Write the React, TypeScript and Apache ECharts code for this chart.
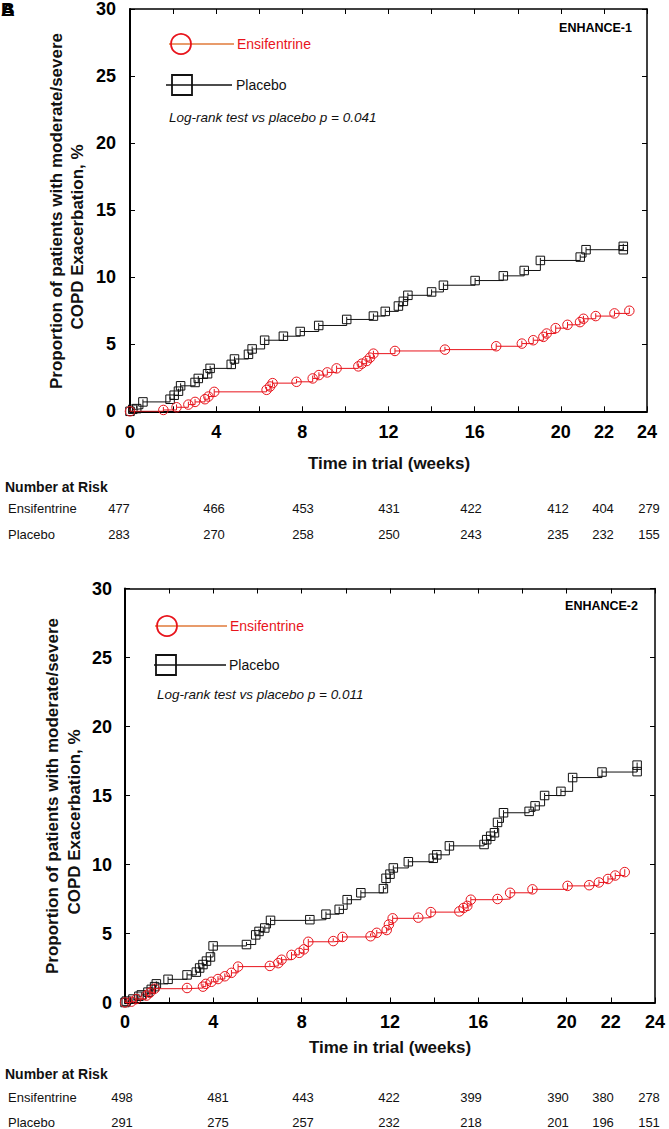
import React, { useEffect, useRef } from "react";
import * as echarts from "echarts";

type Pt = [number, number];

// ---------- DATA ----------
const xTickLabels = [0, 4, 8, 12, 16, 20, 22, 24];
const seriesNames = ["Ensifentrine", "Placebo"];
const trialNames = ["ENHANCE-1", "ENHANCE-2"];
const pValues = ["0.041", "0.011"];

const trial1Ensifentrine: Pt[] = [
  [0, 0], [1.55, 0.1], [2.16, 0.3], [2.71, 0.5], [3.02, 0.7], [3.48, 0.9], [3.64, 1.1], [3.91, 1.45],
  [6.34, 1.6], [6.5, 1.85], [6.62, 2.1], [7.73, 2.2], [8.48, 2.45], [8.77, 2.7], [9.16, 2.9], [9.59, 3.2],
  [10.6, 3.35], [10.76, 3.55], [10.99, 3.75], [11.14, 4.0], [11.3, 4.3], [12.3, 4.5], [14.62, 4.6],
  [17.0, 4.85], [18.19, 5.05], [18.72, 5.3], [19.19, 5.55], [19.34, 5.8], [19.76, 6.2], [20.31, 6.45],
  [20.89, 6.65], [21.05, 6.9], [21.62, 7.1], [22.49, 7.3], [23.18, 7.5],
];
const trial1Placebo: Pt[] = [
  [0, 0], [0.13, 0.15], [0.31, 0.2], [0.6, 0.7], [1.86, 0.9], [2.05, 1.2], [2.25, 1.5], [2.35, 1.9],
  [3.02, 2.15], [3.17, 2.45], [3.6, 2.8], [3.72, 3.2], [4.7, 3.5], [4.85, 3.9], [5.5, 4.25], [5.67, 4.65],
  [6.25, 5.3], [7.12, 5.6], [7.9, 5.95], [8.76, 6.4], [10.06, 6.85], [11.3, 7.1], [11.85, 7.45],
  [12.46, 7.85], [12.69, 8.2], [12.9, 8.65], [14.0, 8.9], [14.55, 9.4], [16.02, 9.75], [17.33, 10.1],
  [18.3, 10.5], [19.05, 11.25], [20.9, 11.5], [21.17, 12.05], [22.9, 12.05], [22.9, 12.3],
];
const trial2Ensifentrine: Pt[] = [
  [0, 0], [0.29, 0.06], [0.51, 0.25], [0.97, 0.5], [1.12, 0.7], [1.34, 1.0], [2.81, 1.05], [3.53, 1.15],
  [3.66, 1.35], [3.91, 1.5], [4.21, 1.7], [4.52, 1.9], [4.82, 2.15], [5.12, 2.6], [6.56, 2.65], [6.94, 2.85],
  [7.09, 3.1], [7.54, 3.45], [7.89, 3.6], [8.1, 3.85], [8.3, 4.4], [9.43, 4.45], [9.85, 4.75], [11.12, 4.8],
  [11.4, 5.05], [11.85, 5.25], [11.95, 5.65], [12.12, 6.1], [13.28, 6.15], [13.85, 6.55], [15.14, 6.6],
  [15.33, 6.85], [15.5, 7.0], [15.66, 7.45], [16.87, 7.5], [17.44, 7.95], [18.45, 8.2], [20.04, 8.45],
  [21.02, 8.5], [21.46, 8.7], [21.87, 8.95], [22.2, 9.2], [22.63, 9.45],
];
const trial2Placebo: Pt[] = [
  [0, 0], [0.06, 0.1], [0.36, 0.25], [0.63, 0.45], [0.74, 0.55], [1.04, 0.75], [1.19, 0.95], [1.34, 1.15],
  [1.42, 1.35], [1.95, 1.68], [2.81, 2.0], [3.23, 2.2], [3.38, 2.5], [3.53, 2.75], [3.69, 3.0], [3.87, 3.3],
  [3.99, 4.1], [5.5, 4.2], [5.92, 4.9], [6.07, 5.15], [6.33, 5.4], [6.59, 5.95], [8.37, 6.0], [9.1, 6.4],
  [9.7, 6.75], [10.06, 7.45], [10.68, 7.95], [11.7, 8.25], [11.82, 9.0], [12.0, 9.3], [12.15, 9.75],
  [12.83, 10.2], [13.96, 10.45], [14.12, 10.7], [14.69, 11.35], [16.26, 11.45], [16.38, 11.8],
  [16.56, 12.05], [16.73, 12.3], [16.87, 13.05], [17.14, 13.75], [18.3, 13.85], [18.57, 14.25],
  [19.0, 15.0], [19.74, 15.3], [20.27, 16.3], [21.6, 16.7], [23.19, 16.73], [23.19, 17.2],
];

const risk1Ensifentrine = [477, 466, 453, 431, 422, 412, 404, 279];
const risk1Placebo = [283, 270, 258, 250, 243, 235, 232, 155];
const risk2Ensifentrine = [498, 481, 443, 422, 399, 390, 380, 278];
const risk2Placebo = [291, 275, 257, 232, 218, 201, 196, 151];

// ---------- STYLE / LAYOUT ----------
const FONT = "'Liberation Sans', Arial, Helvetica, sans-serif";
const RED = "#e8141c";
const ORANGE = "#e07a3a";
const CIRCLE_SYM = "path://M0,10A10,10,0,1,1,20,10A10,10,0,1,1,0,10Z M10,10L10,4";
const SQUARE_SYM = "path://M0,0L20,0L20,20L0,20Z M10,10L10,4";

const panels = [
  {
    grid: { left: 130, top: 9, width: 517, height: 402.3 },
    ens: trial1Ensifentrine, pla: trial1Placebo,
    riskEns: risk1Ensifentrine, riskPla: risk1Placebo,
    riskX: [119, 214, 303, 389, 471, 558, 603, 649],
    yLabelMargin: 14, xLabelMargin: 12,
    titleX: 632, titleY: 28,
    legCircle: [181, 44], legLine1: [169, 234], legText1: 237,
    legSquare: [182, 85], legLine2: [166, 232], legText2: 236,
    pX: 169, pY: 117,
    yTitle1: [56, 211], yTitle2: [77, 237],
    xTitle: [389, 463],
    nrY: 487, rowY: [508, 534],
  },
  {
    grid: { left: 125, top: 588.5, width: 530, height: 414 },
    ens: trial2Ensifentrine, pla: trial2Placebo,
    riskEns: risk2Ensifentrine, riskPla: risk2Placebo,
    riskX: [122, 218, 303, 389, 471, 558, 603, 649],
    yLabelMargin: 13, xLabelMargin: 10,
    titleX: 638, titleY: 606,
    legCircle: [167, 626], legLine1: [155, 227], legText1: 230,
    legSquare: [166, 665], legLine2: [154, 226], legText2: 229,
    pX: 157, pY: 694,
    yTitle1: [52, 796], yTitle2: [74, 822],
    xTitle: [390, 1047],
    nrY: 1074, rowY: [1097, 1122],
  },
];

function buildOption() {
  const grids: any[] = [];
  const xAxes: any[] = [];
  const yAxes: any[] = [];
  const series: any[] = [];
  const graphic: any[] = [];

  const txt = (x: number, y: number, text: string, extra: any = {}, rotation = 0) => ({
    type: "text", x, y, rotation, silent: true,
    style: { text, fill: "#111", fontFamily: FONT, fontSize: 13, align: "left", verticalAlign: "middle", ...extra },
  });

  panels.forEach((p, i) => {
    grids.push({ ...p.grid });
    const common = { gridIndex: i, min: 0, splitLine: { show: false } };
    xAxes.push({
      ...common, type: "value", max: 24, interval: 2, position: "bottom",
      axisLine: { show: true, onZero: false, lineStyle: { color: "#000", width: 2 } },
      axisTick: { show: true, inside: true, length: 5, lineStyle: { color: "#000", width: 1 } },
      axisLabel: {
        show: true, margin: p.xLabelMargin, color: "#000", fontFamily: FONT, fontSize: 18, fontWeight: "bold",
        formatter: (v: number) => (xTickLabels.includes(v) ? String(v) : ""),
      },
    });
    xAxes.push({
      ...common, type: "value", max: 24, interval: 2, position: "top",
      axisLine: { show: true, onZero: false, lineStyle: { color: "#000", width: 1.5 } },
      axisTick: { show: true, inside: true, length: 5, lineStyle: { color: "#000", width: 1 } },
      axisLabel: { show: false },
    });
    yAxes.push({
      ...common, type: "value", max: 30, interval: 5, position: "left",
      axisLine: { show: true, onZero: false, lineStyle: { color: "#000", width: 2 } },
      axisTick: { show: true, inside: true, length: 5, lineStyle: { color: "#000", width: 1 } },
      axisLabel: { show: true, margin: p.yLabelMargin, color: "#000", fontFamily: FONT, fontSize: 18, fontWeight: "bold" },
    });
    yAxes.push({
      ...common, type: "value", max: 30, interval: 5, position: "right",
      axisLine: { show: true, onZero: false, lineStyle: { color: "#000", width: 1.5 } },
      axisTick: { show: true, inside: true, length: 5, lineStyle: { color: "#000", width: 1 } },
      axisLabel: { show: false },
    });

    series.push({
      name: seriesNames[1] + i, type: "line", xAxisIndex: i * 2, yAxisIndex: i * 2,
      data: p.pla, step: "end", symbol: SQUARE_SYM, symbolSize: 8.5, showSymbol: true, showAllSymbol: true,
      lineStyle: { color: "#111", width: 1 },
      itemStyle: { color: "rgba(0,0,0,0)", borderColor: "#111", borderWidth: 1 },
      silent: true, z: 3,
    });
    series.push({
      name: seriesNames[0] + i, type: "line", xAxisIndex: i * 2, yAxisIndex: i * 2,
      data: p.ens, step: "end", symbol: CIRCLE_SYM, symbolSize: 9.5, showSymbol: true, showAllSymbol: true,
      lineStyle: { color: RED, width: 1 },
      itemStyle: { color: "rgba(0,0,0,0)", borderColor: RED, borderWidth: 1 },
      silent: true, z: 4,
    });

    // title
    graphic.push(txt(p.titleX, p.titleY, trialNames[i], { fontSize: 12.5, fontWeight: "bold", align: "right", fill: "#000" }));
    // legend - Ensifentrine
    graphic.push({ type: "line", silent: true, shape: { x1: p.legLine1[0], y1: p.legCircle[1], x2: p.legLine1[1], y2: p.legCircle[1] }, style: { stroke: ORANGE, lineWidth: 1.4 } });
    graphic.push({ type: "circle", silent: true, shape: { cx: p.legCircle[0], cy: p.legCircle[1], r: 10 }, style: { fill: "none", stroke: RED, lineWidth: 1.8 } });
    graphic.push(txt(p.legText1, p.legCircle[1], seriesNames[0], { fontSize: 14, fill: RED }));
    // legend - Placebo
    graphic.push({ type: "line", silent: true, shape: { x1: p.legLine2[0], y1: p.legSquare[1], x2: p.legLine2[1], y2: p.legSquare[1] }, style: { stroke: "#111", lineWidth: 1.3 } });
    graphic.push({ type: "rect", silent: true, shape: { x: p.legSquare[0] - 10, y: p.legSquare[1] - 10, width: 20, height: 20 }, style: { fill: "none", stroke: "#111", lineWidth: 1.8 } });
    graphic.push(txt(p.legText2, p.legSquare[1], seriesNames[1], { fontSize: 14 }));
    // p-value
    graphic.push(txt(p.pX, p.pY, `Log-rank test vs placebo p = ${pValues[i]}`, { fontSize: 13.5, fontStyle: "italic" }));
    // y-axis title
    graphic.push(txt(p.yTitle1[0], p.yTitle1[1], "Proportion of patients with moderate/severe", { fontSize: 17, fontWeight: "bold", align: "center" }, Math.PI / 2));
    graphic.push(txt(p.yTitle2[0], p.yTitle2[1], "COPD Exacerbation, %", { fontSize: 17, fontWeight: "bold", align: "center" }, Math.PI / 2));
    // x-axis title
    graphic.push(txt(p.xTitle[0], p.xTitle[1], "Time in trial (weeks)", { fontSize: 17, fontWeight: "bold", align: "center" }));
    // number at risk
    graphic.push(txt(5, p.nrY, "Number at Risk", { fontSize: 14, fontWeight: "bold" }));
    graphic.push(txt(8, p.rowY[0], seriesNames[0], { fontSize: 13 }));
    graphic.push(txt(8, p.rowY[1], seriesNames[1], { fontSize: 13 }));
    p.riskEns.forEach((n, k) => graphic.push(txt(p.riskX[k], p.rowY[0], String(n), { fontSize: 13, align: "center" })));
    p.riskPla.forEach((n, k) => graphic.push(txt(p.riskX[k], p.rowY[1], String(n), { fontSize: 13, align: "center" })));
  });

  // overlapping panel letters at top-left
  graphic.push(txt(1, 9, "A", { fontSize: 19, fontWeight: "bold", fill: "#000" }));
  graphic.push(txt(1, 9, "B", { fontSize: 19, fontWeight: "bold", fill: "#000" }));

  return {
    animation: false,
    backgroundColor: "#ffffff",
    grid: grids,
    xAxis: xAxes,
    yAxis: yAxes,
    series,
    graphic,
  };
}

export default function App() {
  const ref = useRef<HTMLDivElement>(null);
  useEffect(() => {
    if (!ref.current) return;
    const chart = echarts.init(ref.current, null, { renderer: "svg" });
    chart.setOption(buildOption() as any);
    return () => chart.dispose();
  }, []);
  return (
    <div
      ref={ref}
      style={{ position: "absolute", left: 0, top: 0, width: 669, height: 1129, background: "#fff" }}
    />
  );
}
